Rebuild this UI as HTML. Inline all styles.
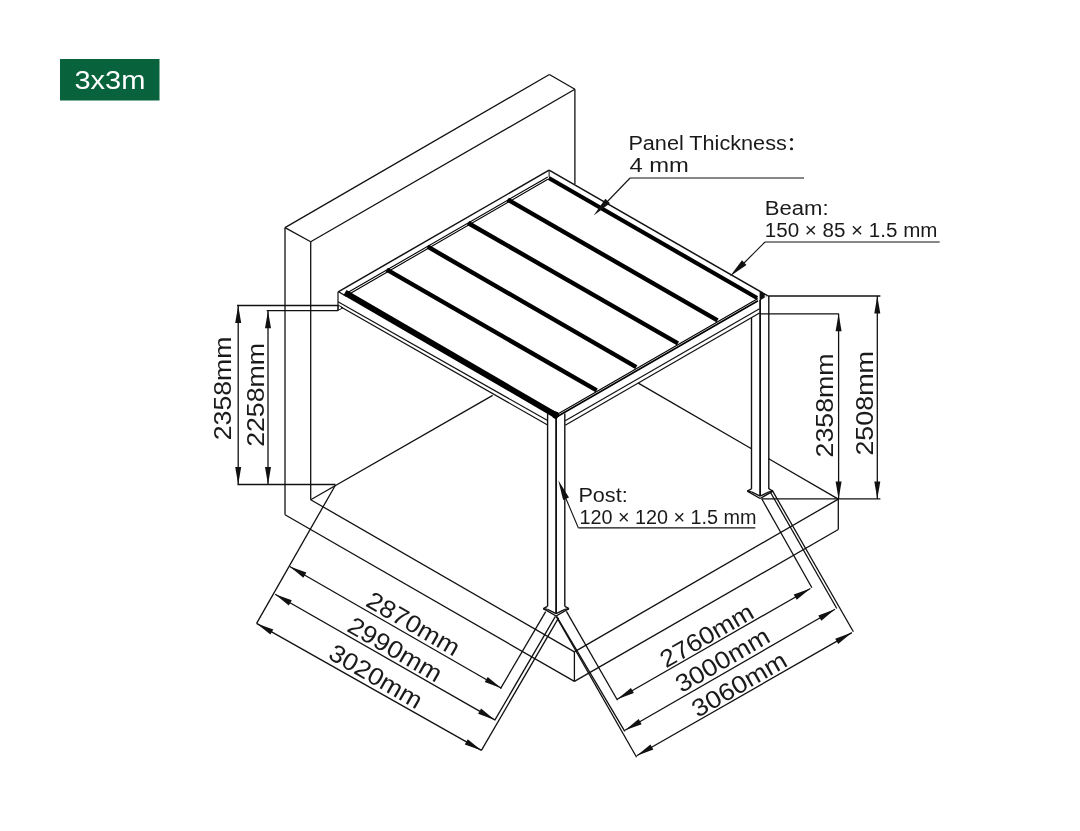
<!DOCTYPE html>
<html><head><meta charset="utf-8"><title>3x3m</title>
<style>
html,body{margin:0;padding:0;background:#fff;}
body{width:1080px;height:831px;overflow:hidden;}
svg{display:block;font-family:"Liberation Sans",sans-serif;will-change:transform;}
</style></head><body>
<svg width="1080" height="831" viewBox="0 0 1080 831">
<rect width="1080" height="831" fill="#fff"/>
<rect x="60" y="59" width="99.5" height="41.5" fill="#08633c"/>
<text x="74.4" y="88.9" font-size="25.2" fill="#ffffff" textLength="71" lengthAdjust="spacingAndGlyphs">3x3m</text>
<line x1="285" y1="227.6" x2="549.4" y2="74.5" stroke="#111111" stroke-width="1.3"/>
<line x1="549.4" y1="74.5" x2="574.9" y2="89.3" stroke="#111111" stroke-width="1.3"/>
<line x1="574.9" y1="89.3" x2="310.7" y2="241.7" stroke="#111111" stroke-width="1.3"/>
<line x1="310.7" y1="241.7" x2="285" y2="227.6" stroke="#111111" stroke-width="1.3"/>
<line x1="285" y1="227.6" x2="285" y2="514.7" stroke="#111111" stroke-width="1.3"/>
<line x1="310.7" y1="241.7" x2="310.7" y2="499.7" stroke="#111111" stroke-width="1.3"/>
<line x1="574.9" y1="89.3" x2="574.9" y2="184" stroke="#111111" stroke-width="1.3"/>
<line x1="310.7" y1="499.7" x2="492.7" y2="395.4" stroke="#111111" stroke-width="1.3"/>
<line x1="310.7" y1="499.7" x2="574.4" y2="651.9" stroke="#111111" stroke-width="1.3"/>
<line x1="285" y1="514.7" x2="574.4" y2="681.4" stroke="#111111" stroke-width="1.3"/>
<line x1="574.4" y1="651.9" x2="838.3" y2="499.1" stroke="#111111" stroke-width="1.3"/>
<line x1="574.4" y1="681.4" x2="838.3" y2="529.5" stroke="#111111" stroke-width="1.3"/>
<line x1="574.4" y1="651.9" x2="574.4" y2="681.4" stroke="#111111" stroke-width="1.3"/>
<line x1="838.3" y1="499.1" x2="838.3" y2="529.5" stroke="#111111" stroke-width="1.3"/>
<line x1="838.3" y1="499.1" x2="768.3" y2="458.5" stroke="#111111" stroke-width="1.3"/>
<line x1="751.5" y1="448.8" x2="638.3" y2="383.1" stroke="#111111" stroke-width="1.3"/>
<line x1="547.6" y1="413.5" x2="547.6" y2="606.4" stroke="#111111" stroke-width="1.4"/>
<line x1="556.1" y1="416.5" x2="556.1" y2="613.6" stroke="#111111" stroke-width="1.8"/>
<line x1="564.8" y1="413.5" x2="564.8" y2="606.4" stroke="#111111" stroke-width="1.4"/>
<line x1="543.3" y1="608.6" x2="547.5" y2="606.4" stroke="#111111" stroke-width="1.4"/>
<line x1="564.9" y1="606.4" x2="569" y2="608.6" stroke="#111111" stroke-width="1.4"/>
<line x1="543.3" y1="608.6" x2="556.1" y2="616" stroke="#111111" stroke-width="1.4"/>
<line x1="556.1" y1="616" x2="569" y2="608.6" stroke="#111111" stroke-width="1.4"/>
<line x1="547.5" y1="609.4" x2="556.1" y2="613.6" stroke="#111111" stroke-width="1.4"/>
<line x1="556.1" y1="613.6" x2="564.9" y2="609.4" stroke="#111111" stroke-width="1.4"/>
<line x1="543.3" y1="608.6" x2="547.5" y2="609.4" stroke="#111111" stroke-width="1.4"/>
<line x1="569" y1="608.6" x2="564.9" y2="609.4" stroke="#111111" stroke-width="1.4"/>
<line x1="751.5" y1="317.7" x2="751.5" y2="488.9" stroke="#111111" stroke-width="1.4"/>
<line x1="760.1" y1="300" x2="760.1" y2="496.1" stroke="#111111" stroke-width="1.8"/>
<line x1="768.8" y1="296" x2="768.8" y2="488.9" stroke="#111111" stroke-width="1.4"/>
<line x1="747.3" y1="491.1" x2="751.5" y2="488.9" stroke="#111111" stroke-width="1.4"/>
<line x1="768.9" y1="488.9" x2="773" y2="491.1" stroke="#111111" stroke-width="1.4"/>
<line x1="747.3" y1="491.1" x2="760.1" y2="498.5" stroke="#111111" stroke-width="1.4"/>
<line x1="760.1" y1="498.5" x2="773" y2="491.1" stroke="#111111" stroke-width="1.4"/>
<line x1="751.5" y1="491.9" x2="760.1" y2="496.1" stroke="#111111" stroke-width="1.4"/>
<line x1="760.1" y1="496.1" x2="768.9" y2="491.9" stroke="#111111" stroke-width="1.4"/>
<line x1="747.3" y1="491.1" x2="751.5" y2="491.9" stroke="#111111" stroke-width="1.4"/>
<line x1="773" y1="491.1" x2="768.9" y2="491.9" stroke="#111111" stroke-width="1.4"/>
<line x1="338.2" y1="291.8" x2="549.1" y2="170.2" stroke="#111111" stroke-width="1.5"/>
<line x1="549.1" y1="170.2" x2="767.8" y2="295.9" stroke="#111111" stroke-width="1.5"/>
<line x1="338" y1="291.8" x2="338" y2="310.5" stroke="#111111" stroke-width="1.2"/>
<line x1="549.1" y1="170.2" x2="549.1" y2="177" stroke="#111111" stroke-width="1"/>
<polygon points="759.6,291 767.8,295.6 759.6,300.8" fill="#111111"/>
<polygon points="764.6,295 767,296.1 764.8,297.2" fill="#fff"/>
<line x1="547.8" y1="177" x2="345.6" y2="293.7" stroke="#000" stroke-width="1.1"/>
<line x1="547.8" y1="179.3" x2="347.6" y2="294.9" stroke="#000" stroke-width="1.1"/>
<line x1="548.8" y1="178" x2="757.1" y2="298" stroke="#000" stroke-width="4.2"/>
<line x1="345" y1="292.6" x2="556" y2="415.3" stroke="#000" stroke-width="6"/>
<polygon points="553,410.6 558.2,412.3 559.6,415.6 556.2,419.6 552.6,417.6" fill="#000"/>
<line x1="507.7" y1="199.6" x2="717.5" y2="320.4" stroke="#000" stroke-width="4.4"/>
<line x1="468.1" y1="223" x2="677.9" y2="343.3" stroke="#000" stroke-width="4.4"/>
<line x1="427.7" y1="246.7" x2="636.3" y2="367.1" stroke="#000" stroke-width="4.4"/>
<line x1="386.8" y1="269.6" x2="596.7" y2="390.4" stroke="#000" stroke-width="4.4"/>
<line x1="557.8" y1="413.9" x2="758" y2="298.5" stroke="#000" stroke-width="1.1"/>
<line x1="557.8" y1="416.2" x2="758" y2="300.8" stroke="#000" stroke-width="1.6"/>
<line x1="565.2" y1="420.8" x2="759.5" y2="308.7" stroke="#111111" stroke-width="1.2"/>
<line x1="565.2" y1="425.2" x2="759.5" y2="313.1" stroke="#111111" stroke-width="1.2"/>
<line x1="338.5" y1="291.8" x2="346.5" y2="296.4" stroke="#111111" stroke-width="1.3"/>
<line x1="338" y1="301.7" x2="547.6" y2="420.6" stroke="#111111" stroke-width="1.2"/>
<line x1="341" y1="306.9" x2="547.6" y2="425" stroke="#111111" stroke-width="1.2"/>
<polygon points="338,305 343,307.8 338,310.4" fill="none" stroke="#111111" stroke-width="1"/>
<line x1="237" y1="305.5" x2="338" y2="305.5" stroke="#111111" stroke-width="1.3"/>
<line x1="266.7" y1="310.7" x2="338" y2="310.7" stroke="#111111" stroke-width="1.3"/>
<line x1="237.5" y1="484.5" x2="335.5" y2="484.5" stroke="#111111" stroke-width="1.3"/>
<line x1="238.2" y1="305.5" x2="238.2" y2="484.5" stroke="#111111" stroke-width="1.3"/>
<polygon points="238.2,305.5 241.2,323 235.2,323" fill="#111111"/>
<polygon points="238.2,484.5 235.2,467 241.2,467" fill="#111111"/>
<line x1="268" y1="310.7" x2="268" y2="484.5" stroke="#111111" stroke-width="1.3"/>
<polygon points="268,310.7 271,328.2 265,328.2" fill="#111111"/>
<polygon points="268,484.5 265,467 271,467" fill="#111111"/>
<text x="230.6" y="440.2" font-size="24.5" fill="#1a1a1a" textLength="103.6" lengthAdjust="spacingAndGlyphs" transform="rotate(-90 230.6 440.2)">2358mm</text>
<text x="264.2" y="446.8" font-size="24.5" fill="#1a1a1a" textLength="103.8" lengthAdjust="spacingAndGlyphs" transform="rotate(-90 264.2 446.8)">2258mm</text>
<line x1="768" y1="296" x2="880.4" y2="296" stroke="#111111" stroke-width="1.3"/>
<line x1="760" y1="313.8" x2="838.9" y2="313.8" stroke="#111111" stroke-width="1.3"/>
<line x1="761.7" y1="498.9" x2="880.4" y2="498.9" stroke="#111111" stroke-width="1.3"/>
<line x1="838.6" y1="313.8" x2="838.6" y2="498.9" stroke="#111111" stroke-width="1.3"/>
<polygon points="838.6,313.8 841.6,331.3 835.6,331.3" fill="#111111"/>
<polygon points="838.6,498.9 835.6,481.4 841.6,481.4" fill="#111111"/>
<line x1="877.3" y1="296" x2="877.3" y2="498.9" stroke="#111111" stroke-width="1.3"/>
<polygon points="877.3,296 880.3,313.5 874.3,313.5" fill="#111111"/>
<polygon points="877.3,498.9 874.3,481.4 880.3,481.4" fill="#111111"/>
<text x="833.3" y="457.4" font-size="24.5" fill="#1a1a1a" textLength="104" lengthAdjust="spacingAndGlyphs" transform="rotate(-90 833.3 457.4)">2358mm</text>
<text x="873.4" y="455.6" font-size="24.5" fill="#1a1a1a" textLength="104.6" lengthAdjust="spacingAndGlyphs" transform="rotate(-90 873.4 455.6)">2508mm</text>
<line x1="335.5" y1="485" x2="256.6" y2="623.4" stroke="#111111" stroke-width="1.3"/>
<line x1="545.7" y1="611.6" x2="500.5" y2="688.6" stroke="#111111" stroke-width="1.3"/>
<line x1="555.4" y1="616.4" x2="494.7" y2="720.4" stroke="#111111" stroke-width="1.3"/>
<line x1="558.6" y1="617.8" x2="481.4" y2="750.3" stroke="#111111" stroke-width="1.3"/>
<line x1="289.7" y1="566.5" x2="501.4" y2="688.2" stroke="#111111" stroke-width="1.3"/>
<polygon points="289.7,566.5 306.37,572.62 303.38,577.82" fill="#111111"/>
<polygon points="501.4,688.2 484.73,682.08 487.72,676.88" fill="#111111"/>
<line x1="275.1" y1="594.2" x2="494.8" y2="719.9" stroke="#111111" stroke-width="1.3"/>
<polygon points="275.1,594.2 291.78,600.29 288.8,605.49" fill="#111111"/>
<polygon points="494.8,719.9 478.12,713.81 481.1,708.61" fill="#111111"/>
<line x1="256.6" y1="623.4" x2="481.5" y2="750.4" stroke="#111111" stroke-width="1.3"/>
<polygon points="256.6,623.4 273.31,629.39 270.36,634.62" fill="#111111"/>
<polygon points="481.5,750.4 464.79,744.41 467.74,739.18" fill="#111111"/>
<text x="364.46" y="605.33" font-size="24.5" fill="#1a1a1a" textLength="103.2" lengthAdjust="spacingAndGlyphs" transform="rotate(30 364.46 605.33)">2870mm</text>
<text x="345.7" y="630.64" font-size="24.5" fill="#1a1a1a" textLength="104.4" lengthAdjust="spacingAndGlyphs" transform="rotate(30 345.7 630.64)">2990mm</text>
<text x="326.91" y="657.78" font-size="24.5" fill="#1a1a1a" textLength="103.4" lengthAdjust="spacingAndGlyphs" transform="rotate(30 326.91 657.78)">3020mm</text>
<line x1="566.4" y1="611.4" x2="617.5" y2="700.2" stroke="#111111" stroke-width="1.3"/>
<line x1="556.6" y1="616.4" x2="624.8" y2="731.3" stroke="#111111" stroke-width="1.3"/>
<line x1="556.2" y1="616.4" x2="636.6" y2="757.3" stroke="#111111" stroke-width="1.3"/>
<line x1="761.7" y1="498.7" x2="811.9" y2="587.7" stroke="#111111" stroke-width="1.3"/>
<line x1="770.4" y1="492.2" x2="836.8" y2="608.5" stroke="#111111" stroke-width="1.3"/>
<line x1="772.4" y1="490.6" x2="853.4" y2="631.7" stroke="#111111" stroke-width="1.3"/>
<line x1="617.2" y1="699.2" x2="810.4" y2="588.5" stroke="#111111" stroke-width="1.3"/>
<polygon points="617.2,699.2 630.89,687.9 633.88,693.1" fill="#111111"/>
<polygon points="810.4,588.5 796.71,599.8 793.72,594.6" fill="#111111"/>
<line x1="625" y1="730.3" x2="835" y2="609.3" stroke="#111111" stroke-width="1.3"/>
<polygon points="625,730.3 638.67,718.96 641.66,724.16" fill="#111111"/>
<polygon points="835,609.3 821.33,620.64 818.34,615.44" fill="#111111"/>
<line x1="636.7" y1="755.7" x2="851.9" y2="632.6" stroke="#111111" stroke-width="1.3"/>
<polygon points="636.7,755.7 650.4,744.41 653.38,749.61" fill="#111111"/>
<polygon points="851.9,632.6 838.2,643.89 835.22,638.69" fill="#111111"/>
<text x="666.1" y="668.52" font-size="24.5" fill="#1a1a1a" textLength="103.3" lengthAdjust="spacingAndGlyphs" transform="rotate(-30 666.1 668.52)">2760mm</text>
<text x="681.48" y="693.35" font-size="24.5" fill="#1a1a1a" textLength="104.4" lengthAdjust="spacingAndGlyphs" transform="rotate(-30 681.48 693.35)">3000mm</text>
<text x="697.87" y="717.95" font-size="24.5" fill="#1a1a1a" textLength="105.2" lengthAdjust="spacingAndGlyphs" transform="rotate(-30 697.87 717.95)">3060mm</text>
<line x1="630.1" y1="178" x2="804" y2="178" stroke="#111111" stroke-width="1.15"/>
<line x1="630.1" y1="178" x2="605" y2="204" stroke="#111111" stroke-width="1.1"/>
<polygon points="593.7,215.4 605.36,198.84 609.94,203.3" fill="#111111"/>
<text x="628.4" y="150.4" font-size="19.5" fill="#1a1a1a" textLength="158.4" lengthAdjust="spacingAndGlyphs">Panel Thickness</text>
<circle cx="791.5" cy="139.6" r="1.55" fill="#1a1a1a"/><circle cx="791.5" cy="148.8" r="1.55" fill="#1a1a1a"/>
<text x="629.4" y="172.2" font-size="19.5" fill="#1a1a1a" textLength="59.4" lengthAdjust="spacingAndGlyphs">4 mm</text>
<line x1="765" y1="242" x2="939.7" y2="242" stroke="#111111" stroke-width="1.15"/>
<line x1="765" y1="242" x2="742" y2="265" stroke="#111111" stroke-width="1.1"/>
<polygon points="729.8,276.5 742,260.34 746.44,264.95" fill="#111111"/>
<text x="764.8" y="214.7" font-size="19.5" fill="#1a1a1a" textLength="63.8" lengthAdjust="spacingAndGlyphs">Beam:</text>
<text x="764.8" y="236.7" font-size="19.5" fill="#1a1a1a" textLength="172.6" lengthAdjust="spacingAndGlyphs">150 × 85 × 1.5 mm</text>
<line x1="578.3" y1="527.8" x2="755.3" y2="527.8" stroke="#111111" stroke-width="1.15"/>
<line x1="578.3" y1="527.8" x2="564" y2="494" stroke="#111111" stroke-width="1.1"/>
<polygon points="558.3,480.2 569,497.4 563.1,499.88" fill="#111111"/>
<text x="578.4" y="501.6" font-size="19.5" fill="#1a1a1a" textLength="49.3" lengthAdjust="spacingAndGlyphs">Post:</text>
<text x="579.4" y="523.6" font-size="19.5" fill="#1a1a1a" textLength="177.2" lengthAdjust="spacingAndGlyphs">120 × 120 × 1.5 mm</text>
</svg>
</body></html>
